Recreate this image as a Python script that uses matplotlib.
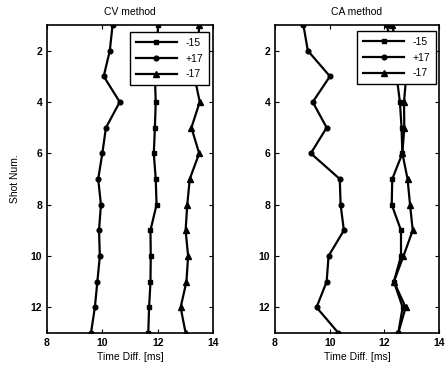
import matplotlib
matplotlib.use("Agg")
import matplotlib.pyplot as plt
import numpy as np

plt.rcParams['font.family'] = ['Liberation Sans', 'DejaVu Sans']

shots = np.arange(1, 14)
# CV method
cv_m15 = [12.02, 11.95, 11.9, 11.93, 11.9, 11.86, 11.93, 11.96, 11.74, 11.75, 11.74, 11.69, 11.66]
cv_p17 = [10.37, 10.27, 10.05, 10.63, 10.13, 10.0, 9.85, 9.95, 9.88, 9.91, 9.82, 9.73, 9.59]
cv_m17 = [13.5, 13.45, 13.33, 13.52, 13.22, 13.5, 13.16, 13.07, 13.01, 13.1, 13.04, 12.83, 13.01]
# CA method
ca_m15 = [12.09, 12.3, 12.45, 12.57, 12.63, 12.66, 12.29, 12.27, 12.61, 12.61, 12.35, 12.67, 12.51]
ca_p17 = [9.04, 9.2, 10.01, 9.38, 9.89, 9.31, 10.37, 10.4, 10.52, 9.96, 9.89, 9.52, 10.32]
ca_m17 = [12.27, 12.55, 12.8, 12.72, 12.73, 12.66, 12.85, 12.94, 13.04, 12.7, 12.35, 12.78, 12.51]

labels = ['-15', '+17', '-17']
xticks = [8, 10, 12, 14]
yticks = [2, 4, 6, 8, 10, 12]

W, H = 447, 370
fig = plt.figure(figsize=(W / 100, H / 100), dpi=100)

def make_ax(x0, x1, y0, y1):
    return fig.add_axes([x0 / W, 1 - y1 / H, (x1 - x0) / W, (y1 - y0) / H])

ax1 = make_ax(47, 213, 25, 333)
ax2 = make_ax(275, 439, 25, 333)

for ax, (m15, p17, m17), title, anchor in [
        (ax1, (cv_m15, cv_p17, cv_m17), 'CV method', (0.976, 0.977)),
        (ax2, (ca_m15, ca_p17, ca_m17), 'CA method', (0.982, 0.980))]:
    ax.plot(m15, shots, color='k', lw=1.6, marker='s', ms=3.0, label=labels[0])
    ax.plot(p17, shots, color='k', lw=1.6, marker='o', ms=3.4, label=labels[1])
    ax.plot(m17, shots, color='k', lw=1.6, marker='^', ms=5, label=labels[2])
    ax.set_xlim(8, 14)
    ax.set_ylim(13, 1)
    ax.set_xticks(xticks)
    ax.set_yticks(yticks)
    ax.tick_params(direction='in', top=True, right=True, labelsize=7.5, length=3, width=0.8)
    for lab in ax.get_xticklabels() + ax.get_yticklabels():
        lab.set_fontweight('bold')
    for s in ax.spines.values():
        s.set_linewidth(1.2)
    ax.set_title(title, fontsize=7.5, pad=7)
    ax.set_xlabel('Time Diff. [ms]', fontsize=7.5, labelpad=3)
    leg = ax.legend(loc='upper right', bbox_to_anchor=anchor, fontsize=7.5,
                    frameon=True, fancybox=False, framealpha=1.0,
                    edgecolor='k', borderaxespad=0.0, handlelength=4.0,
                    labelspacing=0.55, borderpad=0.55, handletextpad=0.8)
    leg.get_frame().set_linewidth(1.0)
    leg.set_zorder(5)

ax1.set_ylabel('Shot Num.', fontsize=7.5, labelpad=8)

fig.savefig('out.png', dpi=100)
